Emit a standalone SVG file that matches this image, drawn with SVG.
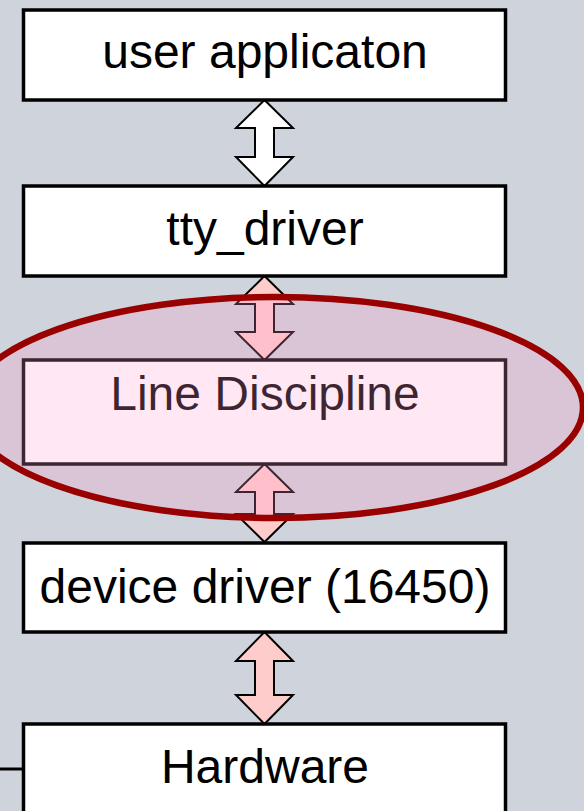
<svg xmlns="http://www.w3.org/2000/svg" width="584" height="811" viewBox="0 0 584 811">
<style>
.box{fill:#ffffff;stroke:#000000;stroke-width:3.5}
.lbl{font-family:"Liberation Sans",Arial,sans-serif;font-size:48px;fill:#000000;text-anchor:middle}
.arr{stroke:#000000;stroke-width:2;stroke-linejoin:miter}
</style>
<rect x="0" y="0" width="584" height="811" fill="#cfd3db"/>
<g id="connectors">
<path class="arr" fill="#ffffff" d="M264.5,100 L293,128 L274,128 L274,157 L293,157 L264.5,186 L236,157 L255,157 L255,128 L236,128 Z"/>
<path class="arr" fill="#ffcccc" d="M264.5,276 L293,304 L274,304 L274,332 L293,332 L264.5,360 L236,332 L255,332 L255,304 L236,304 Z"/>
<path class="arr" fill="#ffcccc" d="M264.5,464 L293,492 L274,492 L274,514 L293,514 L264.5,542 L236,514 L255,514 L255,492 L236,492 Z"/>
<path class="arr" fill="#ffcccc" d="M264.5,632 L293,661 L274,661 L274,695 L293,695 L264.5,724 L236,695 L255,695 L255,661 L236,661 Z"/>
<line x1="0" y1="769" x2="24" y2="769" stroke="#000000" stroke-width="3"/>
</g>
<g id="user-application">
<rect class="box" x="23.5" y="10" width="482" height="90"/>
<text class="lbl" x="265" y="68">user applicaton</text>
</g>
<g id="tty-driver">
<rect class="box" x="23.5" y="186" width="482" height="90"/>
<text class="lbl" x="265" y="245">tty_driver</text>
</g>
<g id="line-discipline">
<rect class="box" x="23.5" y="360" width="482" height="104"/>
<text class="lbl" x="265" y="410">Line Discipline</text>
</g>
<g id="device-driver">
<rect class="box" x="23.5" y="543" width="482" height="89"/>
<text class="lbl" x="265" y="603">device driver (16450)</text>
</g>
<g id="hardware">
<rect class="box" x="23.5" y="724" width="482" height="100"/>
<text class="lbl" x="265" y="783">Hardware</text>
</g>
<g id="highlight">
<ellipse cx="275" cy="407.5" rx="308" ry="110.5" fill="#ff99cc" fill-opacity="0.24" stroke="#990000" stroke-width="6.5"/>
</g>
</svg>
